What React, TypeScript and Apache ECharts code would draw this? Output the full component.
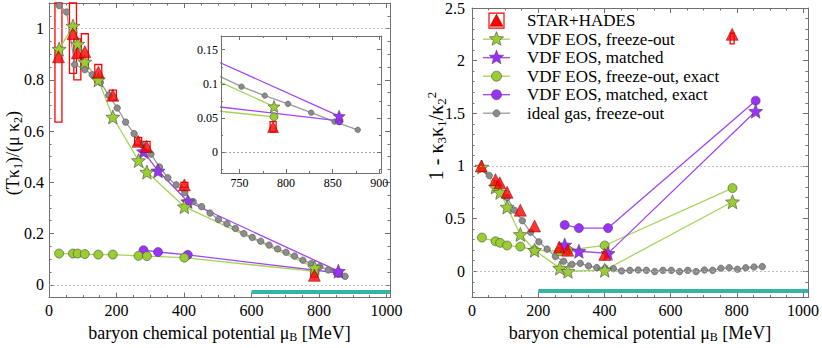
import React, { useEffect, useRef } from 'react';
import * as echarts from 'echarts';

// ---------------- tick labels ----------------
const xTickLabels = [0, 200, 400, 600, 800, 1000];
const leftYTickLabels = [0, 0.2, 0.4, 0.6, 0.8, 1];
const rightYTickLabels = [0, 0.5, 1, 1.5, 2, 2.5];
const insetXTickLabels = [750, 800, 850, 900];
const insetYTickLabels = [0, 0.05, 0.1, 0.15];

// ---------------- texts ----------------
const legendNames = [
  'STAR+HADES',
  'VDF EOS, freeze-out',
  'VDF EOS, matched',
  'VDF EOS, freeze-out, exact',
  'VDF EOS, matched, exact',
  'ideal gas, freeze-out',
];
const xTitle = 'baryon chemical potential μ{s|B} [MeV]';
const leftYTitle = '(Tκ{s|1})/(μ κ{s|2})';
const rightYTitle = '1 - κ{s|3}κ{s|1}/κ{s|2}{p|2}';

// ---------------- STAR+HADES ----------------
const muExp = [28, 71, 84, 106, 146, 189, 264, 289, 401, 786];
const expLeft = [0.89, 0.98, 0.905, 0.91, 0.83, 0.74, 0.56, 0.54, 0.39, 0.037];
const expLeftSysLo = [0.635, 0.825, 0.8, 0.85, 0.79, 0.72, 0.545, 0.52, 0.38, 0.03];
const expLeftSysHi = [1.15, 1.15, 0.96, 0.98, 0.86, 0.76, 0.575, 0.56, 0.4, 0.045];
const expRight = [1.0, 0.87, 0.84, 0.75, 0.58, 0.43, 0.23, 0.2, 0.16, 2.25];
const expRightSysLo = [null, null, null, null, null, null, null, null, null, 2.16];
const expRightSysHi = [null, null, null, null, null, null, null, null, null, 2.26];

// ---------------- VDF EOS, freeze-out ----------------
const muFO = [30, 71, 85, 106, 146, 189, 265, 290, 401, 787];
const foLeft = [0.92, 1.01, 0.94, 0.87, 0.8, 0.655, 0.485, 0.44, 0.305, 0.067];
const foExactLeft = [0.122, 0.122, 0.122, 0.12, 0.118, 0.118, 0.113, 0.112, 0.106, 0.052];
const foRight = [0.99, 0.8, 0.75, 0.61, 0.35, 0.2, 0.03, 0.0, 0.01, 0.66];
const foExactRight = [0.32, 0.285, 0.27, 0.245, 0.235, 0.2, 0.19, 0.2, 0.245, 0.79];

// ---------------- VDF EOS, matched ----------------
const muMatched = [280, 323, 411, 857];
const mLeft = [0.52, 0.445, 0.325, 0.053];
const mExactLeft = [0.135, 0.128, 0.117, 0.046];
const mRight = [0.25, 0.19, 0.17, 1.52];
const mExactRight = [0.44, 0.41, 0.41, 1.62];

// ---------------- ideal gas, freeze-out ----------------
const muGas = [30, 52, 76, 106, 128, 152, 177, 202, 227, 252, 277, 302, 327, 352, 377, 402, 427, 452,
  477, 502, 527, 552, 577, 602, 627, 652, 677, 702, 727, 752, 777, 802, 827, 852, 877];
const gasLeft = [1.09, 1.065, 0.86, 0.84, 0.82, 0.79, 0.74, 0.69, 0.635, 0.59, 0.545, 0.51, 0.46, 0.418,
  0.39, 0.36, 0.325, 0.305, 0.28, 0.255, 0.238, 0.22, 0.2, 0.185, 0.17, 0.155, 0.14, 0.127, 0.112,
  0.096, 0.083, 0.071, 0.058, 0.045, 0.033];
const gasRight = [0.98, 0.91, 0.83, 0.7, 0.58, 0.48, 0.37, 0.28, 0.21, 0.14, 0.095, 0.065, 0.075, 0.05,
  0.035, 0.03, 0.025, 0.003, 0.009, 0.012, 0.009, -0.003, 0.009, 0.009, -0.003, 0.009, -0.003, 0.012,
  0.009, 0.028, 0.034, 0.019, 0.034, 0.04, 0.044];

// ---------------- teal band ----------------
const bandLeftMu = [600, 1010];
const bandLeftVal = [-0.028, -0.028];
const bandRightMu = [200, 1015];
const bandRightVal = [-0.187, -0.187];

// ---------------- styles ----------------
const FONT = 'Liberation Serif';
const AX = '#707070';
const GREEN = '#9acd32';
const GREEN_LINE = '#a5d45a';
const PURPLE = '#9b30ff';
const PURPLE_LINE = '#a245f2';
const RED = '#ff0000';
const GRAY = '#8c8c8c';
const GRAY_LINE = '#9a9a9a';
const TEAL = '#36b4a6';
const STAR_PATH =
  'path://M50 0L62.93 32.2L97.55 34.55L70.92 56.8L79.39 90.45L50 72L20.61 90.45L29.08 56.8L2.45 34.55L37.07 32.2Z';

const zip = (xs: number[], ys: (number | null)[]) => xs.map((x, i) => [x, ys[i]]);
const boxes = (xs: number[], lo: (number | null)[], hi: (number | null)[]) =>
  xs.map((x, i) => [x, lo[i], hi[i]]).filter((d) => d[1] != null && d[2] != null);

function minorTicks(from: number, to: number, step: number, majors: number[]) {
  const out: number[] = [];
  const n = Math.round((to - from) / step);
  for (let i = 0; i <= n; i++) {
    const v = +(from + i * step).toFixed(6);
    if (!majors.some((m) => Math.abs(m - v) < 1e-9)) out.push(v);
  }
  return out;
}

const nameStyle = {
  fontFamily: FONT,
  fontSize: 18,
  color: '#000',
  rich: { s: { fontFamily: FONT, fontSize: 12, color: '#000', padding: [9, 0, 0, 0] } },
};

const fmt = (v: number) => String(v);

function tick(vals: number[], len: number) {
  return { show: true, inside: true, length: len, customValues: vals, lineStyle: { color: AX, width: 1 } };
}

function xAxes(o: any) {
  const common = { type: 'value', gridIndex: o.grid, min: o.min, max: o.max, splitLine: { show: false }, z: o.z || 0 };
  const line = { show: true, onZero: false, lineStyle: { color: AX, width: 1 } };
  const noLine = { show: false, onZero: false };
  const first: any = {
    ...common,
    position: 'bottom',
    axisLine: line,
    axisTick: tick(o.major, o.majorLen),
    axisLabel: { show: true, customValues: o.major, formatter: fmt, fontFamily: FONT, fontSize: o.labelSize, color: '#000', margin: o.margin },
  };
  if (o.name) {
    first.name = o.name;
    first.nameLocation = 'middle';
    first.nameGap = o.nameGap;
    first.nameTextStyle = nameStyle;
  }
  return [
    first,
    { ...common, position: 'bottom', axisLine: noLine, axisTick: tick(o.minor, o.minorLen), axisLabel: { show: false } },
    { ...common, position: 'top', axisLine: line, axisTick: tick(o.major, o.majorLen), axisLabel: { show: false } },
    { ...common, position: 'top', axisLine: noLine, axisTick: tick(o.minor, o.minorLen), axisLabel: { show: false } },
  ];
}

function yAxes(o: any) {
  const common = { type: 'value', gridIndex: o.grid, min: o.min, max: o.max, splitLine: { show: false }, z: o.z || 0 };
  const line = { show: true, onZero: false, lineStyle: { color: AX, width: 1 } };
  const noLine = { show: false, onZero: false };
  return [
    {
      ...common,
      position: 'left',
      axisLine: line,
      axisTick: tick(o.major, o.majorLen),
      axisLabel: { show: true, customValues: o.major, formatter: fmt, fontFamily: FONT, fontSize: o.labelSize, color: '#000', margin: o.margin },
    },
    { ...common, position: 'left', axisLine: noLine, axisTick: tick(o.minor, o.minorLen), axisLabel: { show: false } },
    { ...common, position: 'right', axisLine: line, axisTick: tick(o.major, o.majorLen), axisLabel: { show: false } },
    { ...common, position: 'right', axisLine: noLine, axisTick: tick(o.minor, o.minorLen), axisLabel: { show: false } },
  ];
}

function lineSeries(name: string, xi: number, yi: number, data: any[], color: string, lineColor: string,
  symbol: string, size: number, z: number, border = '#4a4a4a') {
  return {
    type: 'line', name, xAxisIndex: xi, yAxisIndex: yi, data, symbol, symbolSize: size,
    showSymbol: true, showAllSymbol: true, clip: true, silent: true, z,
    lineStyle: { color: lineColor, width: 1.3 },
    itemStyle: { color, borderColor: border, borderWidth: 0.6 },
  };
}

function panelSeries(p: any) {
  const { xi, yi, z, sz } = p;
  const s: any[] = [];
  if (p.band) {
    s.push({
      type: 'line', name: 'band', xAxisIndex: xi, yAxisIndex: yi, data: p.band, symbol: 'none', silent: true, z,
      lineStyle: { color: TEAL, width: 4 },
    });
  }
  const gas: any = lineSeries(legendNames[5], xi, yi, p.gas, GRAY, GRAY_LINE, 'circle', sz.gas, z, '#555');
  gas.markLine = {
    silent: true, symbol: ['none', 'none'], label: { show: false },
    lineStyle: { color: p.refColor, type: [2, 2], width: 0.8 },
    data: p.refs.map((v: number) => ({ yAxis: v })),
  };
  s.push(gas);
  s.push(lineSeries(legendNames[4], xi, yi, p.mEx, PURPLE, PURPLE_LINE, 'circle', sz.circle, z));
  s.push(lineSeries(legendNames[3], xi, yi, p.foEx, GREEN, GREEN_LINE, 'circle', sz.circle, z));
  s.push(lineSeries(legendNames[2], xi, yi, p.m, PURPLE, PURPLE_LINE, STAR_PATH, sz.star, z));
  s.push(lineSeries(legendNames[1], xi, yi, p.fo, GREEN, GREEN_LINE, STAR_PATH, sz.star, z));
  s.push({
    type: 'custom', name: 'sys', xAxisIndex: xi, yAxisIndex: yi, data: p.boxes, silent: true, z,
    renderItem: (params: any, api: any) => {
      const x = api.value(0);
      const top = api.coord([x, api.value(2)]);
      const bot = api.coord([x, api.value(1)]);
      const w = p.boxW;
      const cs = params.coordSys;
      const rect = echarts.graphic.clipRectByRect(
        { x: top[0] - w / 2, y: top[1], width: w, height: bot[1] - top[1] },
        { x: cs.x, y: cs.y, width: cs.width, height: cs.height }
      );
      if (!rect) return null;
      return { type: 'rect', shape: rect, style: { fill: 'none', stroke: RED, lineWidth: 1.3 } };
    },
  });
  s.push({
    type: 'scatter', name: legendNames[0], xAxisIndex: xi, yAxisIndex: yi, data: p.exp, symbol: 'triangle',
    symbolSize: sz.tri, silent: true, z, clip: true,
    itemStyle: { color: RED, borderColor: '#7a0000', borderWidth: 0.6 },
  });
  return s;
}

function starPts(cx: number, cy: number, R: number, r: number) {
  const pts: number[][] = [];
  for (let k = 0; k < 10; k++) {
    const a = -Math.PI / 2 + (k * Math.PI) / 5;
    const rad = k % 2 === 0 ? R : r;
    pts.push([cx + rad * Math.cos(a), cy + rad * Math.sin(a)]);
  }
  return pts;
}

function legendGraphics() {
  const els: any[] = [];
  const y0 = 20.7;
  const dy = 18.5;
  const cx = 496.5;
  const textStyle = (t: string) => ({
    text: t, fontFamily: FONT, fontSize: 17, fill: '#000', align: 'left', verticalAlign: 'middle',
    textAlign: 'left', textVerticalAlign: 'middle',
  });
  legendNames.forEach((nm, i) => {
    const y = y0 + i * dy;
    els.push({ type: 'text', x: 527, y, style: textStyle(nm) });
    if (i === 0) {
      els.push({ type: 'rect', shape: { x: cx - 7.5, y: y - 7.5, width: 15, height: 15 }, style: { fill: 'none', stroke: RED, lineWidth: 1.2 } });
      els.push({ type: 'polygon', shape: { points: [[cx, y - 6.5], [cx - 6.5, y + 5.5], [cx + 6.5, y + 5.5]] }, style: { fill: RED, stroke: '#7a0000', lineWidth: 0.6 } });
      return;
    }
    const lc = i === 5 ? GRAY_LINE : i % 2 === 1 ? GREEN_LINE : PURPLE_LINE;
    const fc = i === 5 ? GRAY : i % 2 === 1 ? GREEN : PURPLE;
    els.push({ type: 'line', shape: { x1: 483, y1: y, x2: 510, y2: y }, style: { stroke: lc, lineWidth: 1.3 } });
    if (i === 1 || i === 2) {
      els.push({ type: 'polygon', shape: { points: starPts(cx, y, 7.5, 3.3) }, style: { fill: fc, stroke: '#4a4a4a', lineWidth: 0.6 } });
    } else if (i === 3 || i === 4) {
      els.push({ type: 'circle', shape: { cx, cy: y, r: 5 }, style: { fill: fc, stroke: '#4a4a4a', lineWidth: 0.6 } });
    } else {
      els.push({ type: 'circle', shape: { cx, cy: y, r: 3.5 }, style: { fill: fc, stroke: '#555', lineWidth: 0.6 } });
    }
  });
  return els;
}

function buildOption() {
  const leftYMinor = minorTicks(-0.05, 1.1, 0.05, leftYTickLabels);
  const rightYMinor = minorTicks(-0.2, 2.5, 0.1, rightYTickLabels);
  const xMinor = minorTicks(0, 1000, 50, xTickLabels);
  const insetXMinor = minorTicks(750, 900, 25, insetXTickLabels);
  const insetYMinor = minorTicks(-0.025, 0.15, 0.025, insetYTickLabels);

  const xAxis = [
    ...xAxes({ grid: 0, min: 0, max: 1010, major: xTickLabels, minor: xMinor, labelSize: 16, margin: 5, majorLen: 5, minorLen: 2.5, name: xTitle, nameGap: 24 }),
    ...xAxes({ grid: 1, min: 0, max: 1015, major: xTickLabels, minor: xMinor, labelSize: 16, margin: 5, majorLen: 5, minorLen: 2.5, name: xTitle, nameGap: 24 }),
    ...xAxes({ grid: 2, min: 730, max: 902, major: insetXTickLabels, minor: insetXMinor, labelSize: 12, margin: 4, majorLen: 4, minorLen: 2, z: 5 }),
  ];
  const yAxis = [
    ...yAxes({ grid: 0, min: -0.05, max: 1.1, major: leftYTickLabels, minor: leftYMinor, labelSize: 16, margin: 5, majorLen: 5, minorLen: 2.5 }),
    ...yAxes({ grid: 1, min: -0.25, max: 2.5, major: rightYTickLabels, minor: rightYMinor, labelSize: 16, margin: 7, majorLen: 5, minorLen: 2.5 }),
    ...yAxes({ grid: 2, min: -0.03, max: 0.17, major: insetYTickLabels, minor: insetYMinor, labelSize: 12, margin: 3, majorLen: 4, minorLen: 2, z: 5 }),
  ];

  const mainSz = { star: 14, tri: 12, circle: 9, gas: 6.5 };
  const insetSz = { star: 12, tri: 11, circle: 8, gas: 5.5 };

  const series = [
    ...panelSeries({
      xi: 0, yi: 0, z: 2, sz: mainSz, band: zip(bandLeftMu, bandLeftVal), refs: [0, 1], refColor: '#b0b0b0',
      gas: zip(muGas, gasLeft), m: zip(muMatched, mLeft), mEx: zip(muMatched, mExactLeft),
      fo: zip(muFO, foLeft), foEx: zip(muFO, foExactLeft), exp: zip(muExp, expLeft),
      boxes: boxes(muExp, expLeftSysLo, expLeftSysHi), boxW: 7,
    }),
    ...panelSeries({
      xi: 4, yi: 4, z: 2, sz: mainSz, band: zip(bandRightMu, bandRightVal), refs: [0, 1], refColor: '#b0b0b0',
      gas: zip(muGas, gasRight), m: zip(muMatched, mRight), mEx: zip(muMatched, mExactRight),
      fo: zip(muFO, foRight), foEx: zip(muFO, foExactRight), exp: zip(muExp, expRight),
      boxes: boxes(muExp, expRightSysLo, expRightSysHi), boxW: 4,
    }),
    ...panelSeries({
      xi: 8, yi: 8, z: 4, sz: insetSz, refs: [0], refColor: '#909090',
      gas: zip(muGas, gasLeft), m: zip(muMatched, mLeft), mEx: zip(muMatched, mExactLeft),
      fo: zip(muFO, foLeft), foEx: zip(muFO, foExactLeft), exp: zip(muExp, expLeft),
      boxes: boxes(muExp, expLeftSysLo, expLeftSysHi), boxW: 6,
    }),
  ];

  const titleRich = (sub: number, pad: number) => ({
    s: { fontFamily: FONT, fontSize: sub, fill: '#000', padding: [pad, 0, 0, 0] },
    p: { fontFamily: FONT, fontSize: sub, fill: '#000', padding: [0, 0, pad, 0] },
  });

  return {
    animation: false,
    backgroundColor: '#fff',
    textStyle: { fontFamily: FONT },
    grid: [
      { left: 49, top: 3, width: 341, height: 297 },
      { left: 472, top: 5, width: 341, height: 294 },
      { left: 221, top: 36, width: 160, height: 137 },
    ],
    xAxis,
    yAxis,
    series,
    graphic: {
      elements: [
        { type: 'rect', z: 3, shape: { x: 221, y: 36, width: 160, height: 137 }, style: { fill: '#fff' } },
        {
          type: 'text', x: 13, y: 153, rotation: Math.PI / 2,
          style: { text: leftYTitle, fontFamily: FONT, fontSize: 18, fill: '#000', align: 'center', verticalAlign: 'middle', textAlign: 'center', textVerticalAlign: 'middle', rich: titleRich(12, 9) },
        },
        {
          type: 'text', x: 436, y: 136, rotation: Math.PI / 2,
          style: { text: rightYTitle, fontFamily: FONT, fontSize: 20, fill: '#000', align: 'center', verticalAlign: 'middle', textAlign: 'center', textVerticalAlign: 'middle', rich: titleRich(13, 10) },
        },
        ...legendGraphics(),
      ],
    },
  };
}

export default function App() {
  const ref = useRef<HTMLDivElement>(null);
  useEffect(() => {
    if (!ref.current) return;
    const chart = echarts.init(ref.current, null, { renderer: 'svg' });
    chart.setOption(buildOption() as any);
    return () => chart.dispose();
  }, []);
  return (
    <div
      ref={ref}
      style={{ position: 'fixed', left: 0, top: 0, width: 822, height: 348, background: '#fff' }}
    />
  );
}
